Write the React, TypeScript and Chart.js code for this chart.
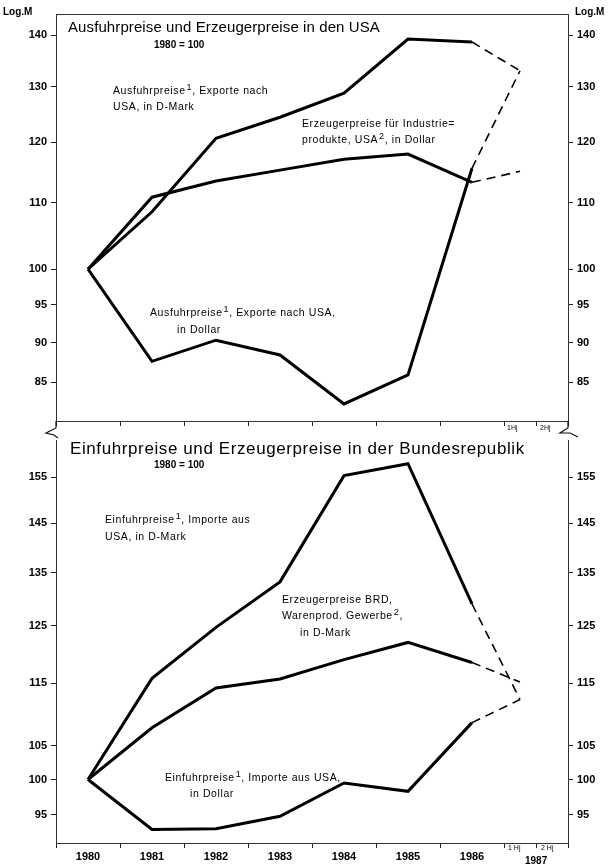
import React, { useEffect, useRef } from 'react';
import { Chart, registerables } from 'chart.js';
Chart.register(...registerables);

// x positions: year intervals [k, k+1], points at centres; 1987 1st half-year at 7.25
const xPositions = [0.5, 1.5, 2.5, 3.5, 4.5, 5.5, 6.5, 7.25];
const yearLabels = ['1980', '1981', '1982', '1983', '1984', '1985', '1986'];
const xTickValues = [0, 1, 2, 3, 4, 5, 6, 7, 7.5, 8];

const topTicks = [85, 90, 95, 100, 110, 120, 130, 140];
const bottomTicks = [95, 100, 105, 115, 125, 135, 145, 155];

// Ausfuhrpreise und Erzeugerpreise in den USA (1980 = 100)
const usaExportDM = [100, 108.6, 120.7, 124.4, 128.8, 139.2, 138.6, 133.0];
const usaProducer = [100, 110.9, 113.5, 115.3, 117.1, 118.0, 113.3, 115.1];
const usaExportUSD = [100, 87.6, 90.3, 88.4, 82.4, 85.9, 115.6, 133.0];

// Einfuhrpreise und Erzeugerpreise in der Bundesrepublik (1980 = 100)
const brdImportDM = [100, 115.8, 124.7, 133.2, 155.4, 158.1, 129.0, 112.3];
const brdProducer = [100, 107.8, 114.2, 115.7, 119.0, 122.0, 118.5, 115.2];
const brdImportUSD = [100, 93.0, 93.1, 94.8, 99.5, 98.3, 108.6, 112.3];

const FONT = '"Liberation Sans", Arial, sans-serif';

function makeDataset(values: number[]) {
  return {
    data: values.map((v, i) => ({ x: xPositions[i], y: v })),
    borderColor: '#000',
    borderWidth: 3,
    pointRadius: 0,
    fill: false,
    tension: 0,
    segment: {
      borderDash: (ctx: any) => (ctx.p1DataIndex === 7 ? [9, 6] : undefined),
      borderWidth: (ctx: any) => (ctx.p1DataIndex === 7 ? 1.6 : undefined),
    },
  };
}

function yScale(position: 'left' | 'right', min: number, max: number, ticks: number[], width: number) {
  return {
    type: 'logarithmic',
    position,
    min,
    max,
    afterBuildTicks: (s: any) => {
      s.ticks = ticks.map((v) => ({ value: v }));
    },
    afterFit: (s: any) => {
      s.width = width;
    },
    ticks: {
      color: '#000',
      padding: 4,
      font: { family: FONT, size: 11, weight: 'bold' },
      callback: (v: any) => String(v),
    },
    grid: { drawOnChartArea: false, drawTicks: true, tickLength: 5, color: '#222' },
    border: { display: true, color: '#333', width: 1 },
  };
}

function makeConfig(opts: {
  series: number[][];
  yMin: number;
  yMax: number;
  yTicks: number[];
  showXLabels: boolean;
  padTop: number;
  xHeight: number;
  plugins: any[];
}) {
  return {
    type: 'line',
    data: { datasets: opts.series.map(makeDataset) },
    options: {
      animation: false,
      responsive: false,
      devicePixelRatio: 1,
      layout: { padding: { top: opts.padTop, left: 0, right: 0, bottom: 0 } },
      plugins: { legend: { display: false }, tooltip: { enabled: false }, title: { display: false } },
      scales: {
        x: {
          type: 'linear',
          min: 0,
          max: 8,
          afterBuildTicks: (s: any) => {
            s.ticks = xTickValues.map((v) => ({ value: v }));
          },
          afterFit: (s: any) => {
            s.height = opts.xHeight;
          },
          ticks: {
            display: opts.showXLabels,
            autoSkip: false,
            maxRotation: 0,
            labelOffset: 32,
            padding: 2,
            color: '#000',
            font: { family: FONT, size: 11, weight: 'bold' },
            callback: (v: any) => (Number.isInteger(v) && v < 7 ? yearLabels[v] : ''),
          },
          grid: { drawOnChartArea: false, drawTicks: true, tickLength: 5, color: '#222' },
          border: { display: true, color: '#333', width: 1 },
        },
        y: yScale('left', opts.yMin, opts.yMax, opts.yTicks, 56),
        y2: yScale('right', opts.yMin, opts.yMax, opts.yTicks, 40),
      },
    },
    plugins: opts.plugins,
  };
}

const topFramePlugin = {
  id: 'topFrame',
  afterDraw(chart: any) {
    const { ctx, chartArea: a } = chart;
    ctx.save();
    ctx.strokeStyle = '#333';
    ctx.lineWidth = 1;
    ctx.beginPath();
    ctx.moveTo(a.left, a.top + 0.5);
    ctx.lineTo(a.right, a.top + 0.5);
    ctx.stroke();
    // axis break marks
    ctx.strokeStyle = '#111';
    ctx.lineWidth = 1.2;
    ctx.beginPath();
    ctx.moveTo(a.left, a.bottom);
    ctx.lineTo(a.left, a.bottom + 7);
    ctx.lineTo(a.left - 10, a.bottom + 12);
    ctx.lineTo(a.left - 2, a.bottom + 14);
    ctx.lineTo(a.left + 2, a.bottom + 17);
    ctx.stroke();
    ctx.beginPath();
    ctx.moveTo(a.right, a.bottom);
    ctx.lineTo(a.right, a.bottom + 7);
    ctx.lineTo(a.right - 8, a.bottom + 12);
    ctx.lineTo(a.right + 2, a.bottom + 12);
    ctx.lineTo(a.right + 10, a.bottom + 16);
    ctx.stroke();
    ctx.restore();
  },
};

type TextItem = { x: number; y: number; size: number; text: React.ReactNode; weight?: string; ls?: number };

const sup = (t: string) => (
  <span style={{ fontSize: 9, position: 'relative', top: -4, marginLeft: 1 }}>{t}</span>
);

const texts: TextItem[] = [
  { x: 3, y: 13, size: 10, text: 'Log.M', weight: 'bold' },
  { x: 575, y: 13, size: 10, text: 'Log.M', weight: 'bold' },
  { x: 68, y: 27, size: 15, text: 'Ausfuhrpreise und Erzeugerpreise in den USA', ls: 0.1 },
  { x: 154, y: 46, size: 10, text: '1980 = 100', weight: 'bold' },
  { x: 113, y: 91, size: 10.5, text: <>Ausfuhrpreise{sup('1')}, Exporte nach</>, ls: 0.6 },
  { x: 113, y: 107, size: 10.5, text: 'USA, in D-Mark', ls: 0.6 },
  { x: 302, y: 124, size: 10.5, text: 'Erzeugerpreise für Industrie=', ls: 0.6 },
  { x: 302, y: 140, size: 10.5, text: <>produkte, USA{sup('2')}, in Dollar</>, ls: 0.6 },
  { x: 150, y: 313, size: 10.5, text: <>Ausfuhrpreise{sup('1')}, Exporte nach USA,</>, ls: 0.6 },
  { x: 177, y: 330, size: 10.5, text: 'in Dollar', ls: 0.6 },
  { x: 507, y: 428, size: 7, text: '1Hj' },
  { x: 540, y: 428, size: 7, text: '2Hj' },
  { x: 70, y: 449, size: 17, text: 'Einfuhrpreise und Erzeugerpreise in der Bundesrepublik', ls: 0.6 },
  { x: 154, y: 466, size: 10, text: '1980 = 100', weight: 'bold' },
  { x: 105, y: 520, size: 10.5, text: <>Einfuhrpreise{sup('1')}, Importe aus</>, ls: 0.6 },
  { x: 105, y: 537, size: 10.5, text: 'USA, in D-Mark', ls: 0.6 },
  { x: 282, y: 600, size: 10.5, text: 'Erzeugerpreise BRD,', ls: 0.6 },
  { x: 282, y: 616, size: 10.5, text: <>Warenprod. Gewerbe{sup('2')},</>, ls: 0.6 },
  { x: 300, y: 633, size: 10.5, text: 'in D-Mark', ls: 0.6 },
  { x: 165, y: 778, size: 10.5, text: <>Einfuhrpreise{sup('1')}, Importe aus USA,</>, ls: 0.6 },
  { x: 190, y: 794, size: 10.5, text: 'in Dollar', ls: 0.6 },
  { x: 508, y: 848, size: 7, text: '1 Hj' },
  { x: 541, y: 848, size: 7, text: '2 Hj' },
  { x: 525, y: 862, size: 10, text: '1987', weight: 'bold' },
];

function ChartCanvas(props: { top: number; height: number; config: any }) {
  const ref = useRef<HTMLCanvasElement | null>(null);
  useEffect(() => {
    if (!ref.current) return;
    const chart = new Chart(ref.current, props.config);
    return () => chart.destroy();
  }, []);
  return (
    <canvas
      ref={ref}
      width={608}
      height={props.height}
      style={{ position: 'absolute', left: 0, top: props.top, width: 608, height: props.height, display: 'block' }}
    />
  );
}

export default function App() {
  const topConfig = makeConfig({
    series: [usaExportDM, usaProducer, usaExportUSD],
    yMin: 80.4,
    yMax: 144.3,
    yTicks: topTicks,
    showXLabels: false,
    padTop: 14,
    xHeight: 19,
    plugins: [topFramePlugin],
  });
  const bottomConfig = makeConfig({
    series: [brdImportDM, brdProducer, brdImportUSD],
    yMin: 91.2,
    yMax: 163.5,
    yTicks: bottomTicks,
    showXLabels: true,
    padTop: 8,
    xHeight: 22,
    plugins: [],
  });
  return (
    <div
      style={{
        position: 'absolute',
        left: 0,
        top: 0,
        width: 608,
        height: 865,
        background: '#fff',
        overflow: 'hidden',
        fontFamily: FONT,
        color: '#000',
      }}
    >
      <ChartCanvas top={0} height={440} config={topConfig} />
      <ChartCanvas top={430} height={435} config={bottomConfig} />
      {texts.map((t, i) => (
        <div
          key={i}
          style={{
            position: 'absolute',
            left: t.x,
            top: t.y - t.size / 2 - 1,
            fontSize: t.size,
            lineHeight: 1,
            fontWeight: t.weight || 'normal',
            letterSpacing: t.ls ? t.ls : 0,
            whiteSpace: 'nowrap',
          }}
        >
          {t.text}
        </div>
      ))}
    </div>
  );
}
